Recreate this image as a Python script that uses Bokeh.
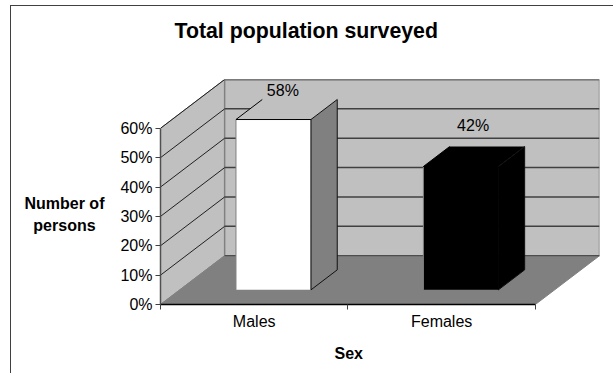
from bokeh.embed import file_html
from bokeh.models import FixedTicker, InlineStyleSheet, Label, PrintfTickFormatter, Title
from bokeh.plotting import figure
from bokeh.resources import INLINE

# Survey figures
categories = ["Males", "Females"]
shares = [58, 42]
y_ticks = [0, 10, 20, 30, 40, 50, 60]
title_text = "Total population surveyed\n"
x_title = "Sex"
y_title = "\n\nNumber of\npersons\u00a0\u00a0"

# Oblique projection of the depth axis, in data units
DEPTH_X = 64 / 187
DEPTH_Y = 49 / 2.95
Y_MAX = 60
X_MAX = 2
FRONT, BACK = 0.3, 0.71
BAR_HALF = 0.2


def project(x, y, d):
    return x + d * DEPTH_X, y + d * DEPTH_Y


p = figure(
    width=613, height=373,
    x_range=(0, X_MAX + DEPTH_X), y_range=(0, Y_MAX + DEPTH_Y),
    output_backend="svg", toolbar_location=None,
    min_border_left=160, min_border_right=14, min_border_top=79, min_border_bottom=69,
)
p.background_fill_color = "white"
p.border_fill_color = "white"
p.outline_line_color = None
p.grid.visible = False

LIBERATION = "Liberation Sans"

# Chart area frame: only its top and left edges fall inside the page
p.stylesheets = [InlineStyleSheet(css=(
    ":host::after{content:'';position:absolute;left:10px;top:5px;right:0;bottom:0;"
    "border-left:1.5px solid #404040;border-top:1.5px solid #404040;pointer-events:none}"
))]

# Chart title, placed over the whole chart rather than the plot frame
p.title.text = title_text
p.title.align = "left"
p.title.offset = 14
p.title.standoff = 26
p.title.text_font = LIBERATION
p.title.text_font_size = "21.3px"
p.title.text_font_style = "bold"
p.title.text_color = "#000000"

# Side wall, back wall and floor
bx0, by0 = project(0, 0, 1)
bx1, by1 = project(X_MAX, Y_MAX, 1)
p.patch([0, 0, bx0, bx0], [0, Y_MAX, by1, by0],
        fill_color="#C0C0C0", line_color="#808080", line_width=1)
p.patch([bx0, bx0, bx1, bx1], [by0, by1, by1, by0],
        fill_color="#C0C0C0", line_color="#808080", line_width=1.5)
p.patch([0, X_MAX, bx1, bx0], [0, 0, by0, by0],
        fill_color="#808080", line_color="#808080", line_width=1)

# Gridlines on both walls
for t in y_ticks[1:]:
    _, wy = project(0, t, 1)
    p.line([0, bx0], [t, wy], line_color="#202020", line_width=1)
    p.line([bx0, bx1], [wy, wy], line_color="#404040", line_width=1.5)
p.line([bx0, bx1], [by0, by0], line_color="#404040", line_width=1)

# Bars
bar_colors = ["#FFFFFF", "#000000"]
side_colors = ["#808080", "#000000"]
top_colors = ["#C0C0C0", "#000000"]
for i, share in enumerate(shares):
    c = i + 0.5
    l, r = c - BAR_HALF, c + BAR_HALF
    fl = project(l, 0, FRONT)
    fr = project(r, 0, FRONT)
    flt = project(l, share, FRONT)
    frt = project(r, share, FRONT)
    brb = project(r, 0, BACK)
    brt = project(r, share, BACK)
    blt = project(l, share, BACK)
    p.patch([fr[0], frt[0], brt[0], brb[0]], [fr[1], frt[1], brt[1], brb[1]],
            fill_color=side_colors[i], line_color=None)
    p.patch([flt[0], frt[0], brt[0], blt[0]], [flt[1], frt[1], brt[1], blt[1]],
            fill_color=top_colors[i], line_color=None)
    p.patch([fl[0], fr[0], frt[0], flt[0]], [fl[1], fr[1], frt[1], flt[1]],
            fill_color=bar_colors[i], line_color=None)
    p.line([fl[0], flt[0]], [fl[1], flt[1]], line_color="#808080", line_width=1)
    p.line([flt[0], frt[0], fr[0]], [flt[1], frt[1], fr[1]], line_color="#000000", line_width=1)
    p.line([fr[0], brb[0], brt[0], frt[0]], [fr[1], brb[1], brt[1], frt[1]],
           line_color="#101010", line_width=1)
    p.line([flt[0], blt[0]], [flt[1], blt[1]], line_color="#000000", line_width=1)

# Value labels sit above the top face of each bar
label_lift = [6.5, 10.6]
label_shift = [-0.02, -0.005]
for i, share in enumerate(shares):
    lx, ly = project(i + 0.5 + label_shift[i], share + label_lift[i], (FRONT + BACK) / 2)
    p.add_layout(Label(x=lx, y=ly, text=f"{share}%", text_align="center", text_baseline="middle",
                       text_font=LIBERATION, text_font_size="16px", text_color="#000000"))

# Axes
ya = p.yaxis[0]
ya.ticker = FixedTicker(ticks=y_ticks)
ya.formatter = PrintfTickFormatter(format="%d%%")
ya.bounds = (0, Y_MAX)
ya.axis_line_color = "#505050"
ya.axis_line_width = 1.5
ya.major_tick_line_color = "#404040"
ya.major_tick_in = 0
ya.major_tick_out = 5
ya.minor_tick_line_color = None
ya.major_label_text_font = LIBERATION
ya.major_label_text_font_size = "16px"
ya.major_label_text_color = "#000000"
ya.major_label_standoff = 3
ya.axis_label = y_title
ya.axis_label_orientation = "horizontal"
ya.axis_label_standoff = 13
ya.axis_label_text_line_height = 1.3
ya.axis_label_text_font = LIBERATION
ya.axis_label_text_font_size = "16px"
ya.axis_label_text_font_style = "bold"
ya.axis_label_text_color = "#000000"

xa = p.xaxis[0]
xa.ticker = FixedTicker(ticks=[0.5, 1.5], minor_ticks=[0, 1, 2])
xa.major_label_overrides = {0.5: categories[0], 1.5: categories[1]}
xa.bounds = (0, X_MAX)
xa.axis_line_color = "#000000"
xa.axis_line_width = 1.5
xa.major_tick_line_color = None
xa.major_tick_in = 0
xa.major_tick_out = 5
xa.minor_tick_line_color = "#404040"
xa.minor_tick_in = 0
xa.minor_tick_out = 5
xa.major_label_text_font = LIBERATION
xa.major_label_text_font_size = "16px"
xa.major_label_text_color = "#000000"
xa.major_label_standoff = 3

# Horizontal axis title, centred under the category axis
p.add_layout(Title(text=x_title, align="left", offset=174, standoff=21, text_font=LIBERATION,
                   text_font_size="16px", text_font_style="bold", text_color="#000000"), "below")

open("out.html", "w").write(file_html(p, INLINE))
